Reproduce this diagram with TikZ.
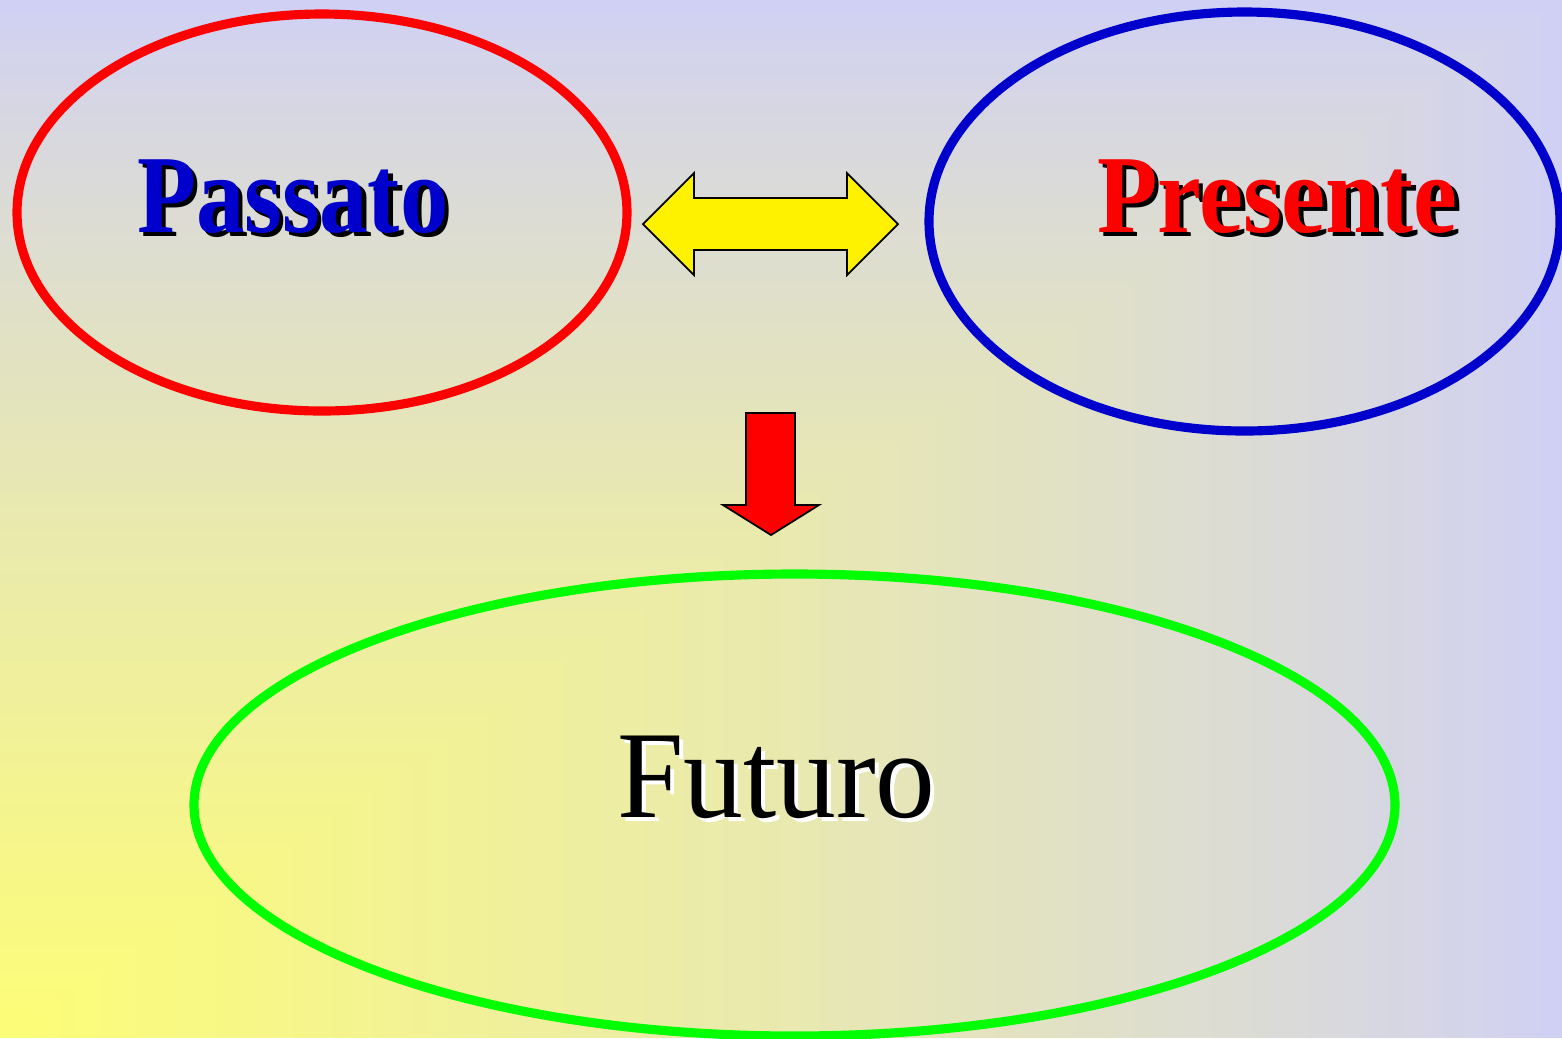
\documentclass[tikz,border=0pt]{standalone}
\usepackage{fontspec}
\setmainfont{Liberation Serif}
\definecolor{yelc}{RGB}{253,253,118}
\definecolor{lavc}{RGB}{208,208,245}
\definecolor{ellred}{RGB}{255,0,0}
\definecolor{ellblue}{RGB}{0,0,204}
\definecolor{ellgreen}{RGB}{0,255,0}
\definecolor{txtblue}{RGB}{0,0,204}
\definecolor{txtred}{RGB}{255,0,0}
\newcommand\mybigbold{\fontsize{31.6pt}{36pt}\selectfont\bfseries}
\newcommand\myfutfont{\fontsize{35.4pt}{40pt}\selectfont}
\tikzset{
  ring/.style={line width=2.6pt},
  lbl/.style={anchor=base west, inner sep=0pt, outer sep=0pt},
  blockarrow/.style={draw=black, line width=0.5pt, line join=miter}
}
\begin{document}
\begin{tikzpicture}[x=0.01cm,y=-0.01cm]
\useasboundingbox (0,0) rectangle (1562,1038);
% corner gradient background
\foreach \k in {0,...,79}{
  \pgfmathsetmacro\s{1-\k/80}
  \pgfmathsetmacro\p{100*(1-\s)^0.85}
  \fill[yelc!\p!lavc] (0,1038) rectangle ({1562*\s},{1038*(1-\s)});
}
% ellipses
\draw[ring, ellred] (322,212.5) ellipse [x radius=305, y radius=198.5];
\draw[ring, ellblue] (1244.5,221.5) ellipse [x radius=315.5, y radius=209.5];
\draw[ring, ellgreen] (794.5,805) ellipse [x radius=600.5, y radius=231];
% texts
\node[lbl, font=\mybigbold, text=black, xscale=0.87] (passatoShadow) at (141.5,236.5) {Passato};
\node[lbl, font=\mybigbold, text=txtblue, xscale=0.87] (passato) at (137,232) {Passato};
\node[lbl, font=\mybigbold, text=black, xscale=0.89] (presenteShadow) at (1101.5,236.5) {Presente};
\node[lbl, font=\mybigbold, text=txtred, xscale=0.89] (presente) at (1097,232) {Presente};
\node[lbl, font=\myfutfont, text=white, xscale=0.96] (futuroShadow) at (621,821) {Futuro};
\node[lbl, font=\myfutfont, text=black, xscale=0.96] (futuro) at (617,817) {Futuro};
% block arrows
\draw[blockarrow, fill=yellow] (643,224) -- (694,173) -- (694,198) -- (847,198) -- (847,173) -- (898,224) -- (847,275) -- (847,250) -- (694,250) -- (694,275) -- cycle;
\draw[blockarrow, fill=red] (746,413) -- (795,413) -- (795,505) -- (819,505) -- (771,535) -- (723,505) -- (746,505) -- cycle;
\end{tikzpicture}
\end{document}
